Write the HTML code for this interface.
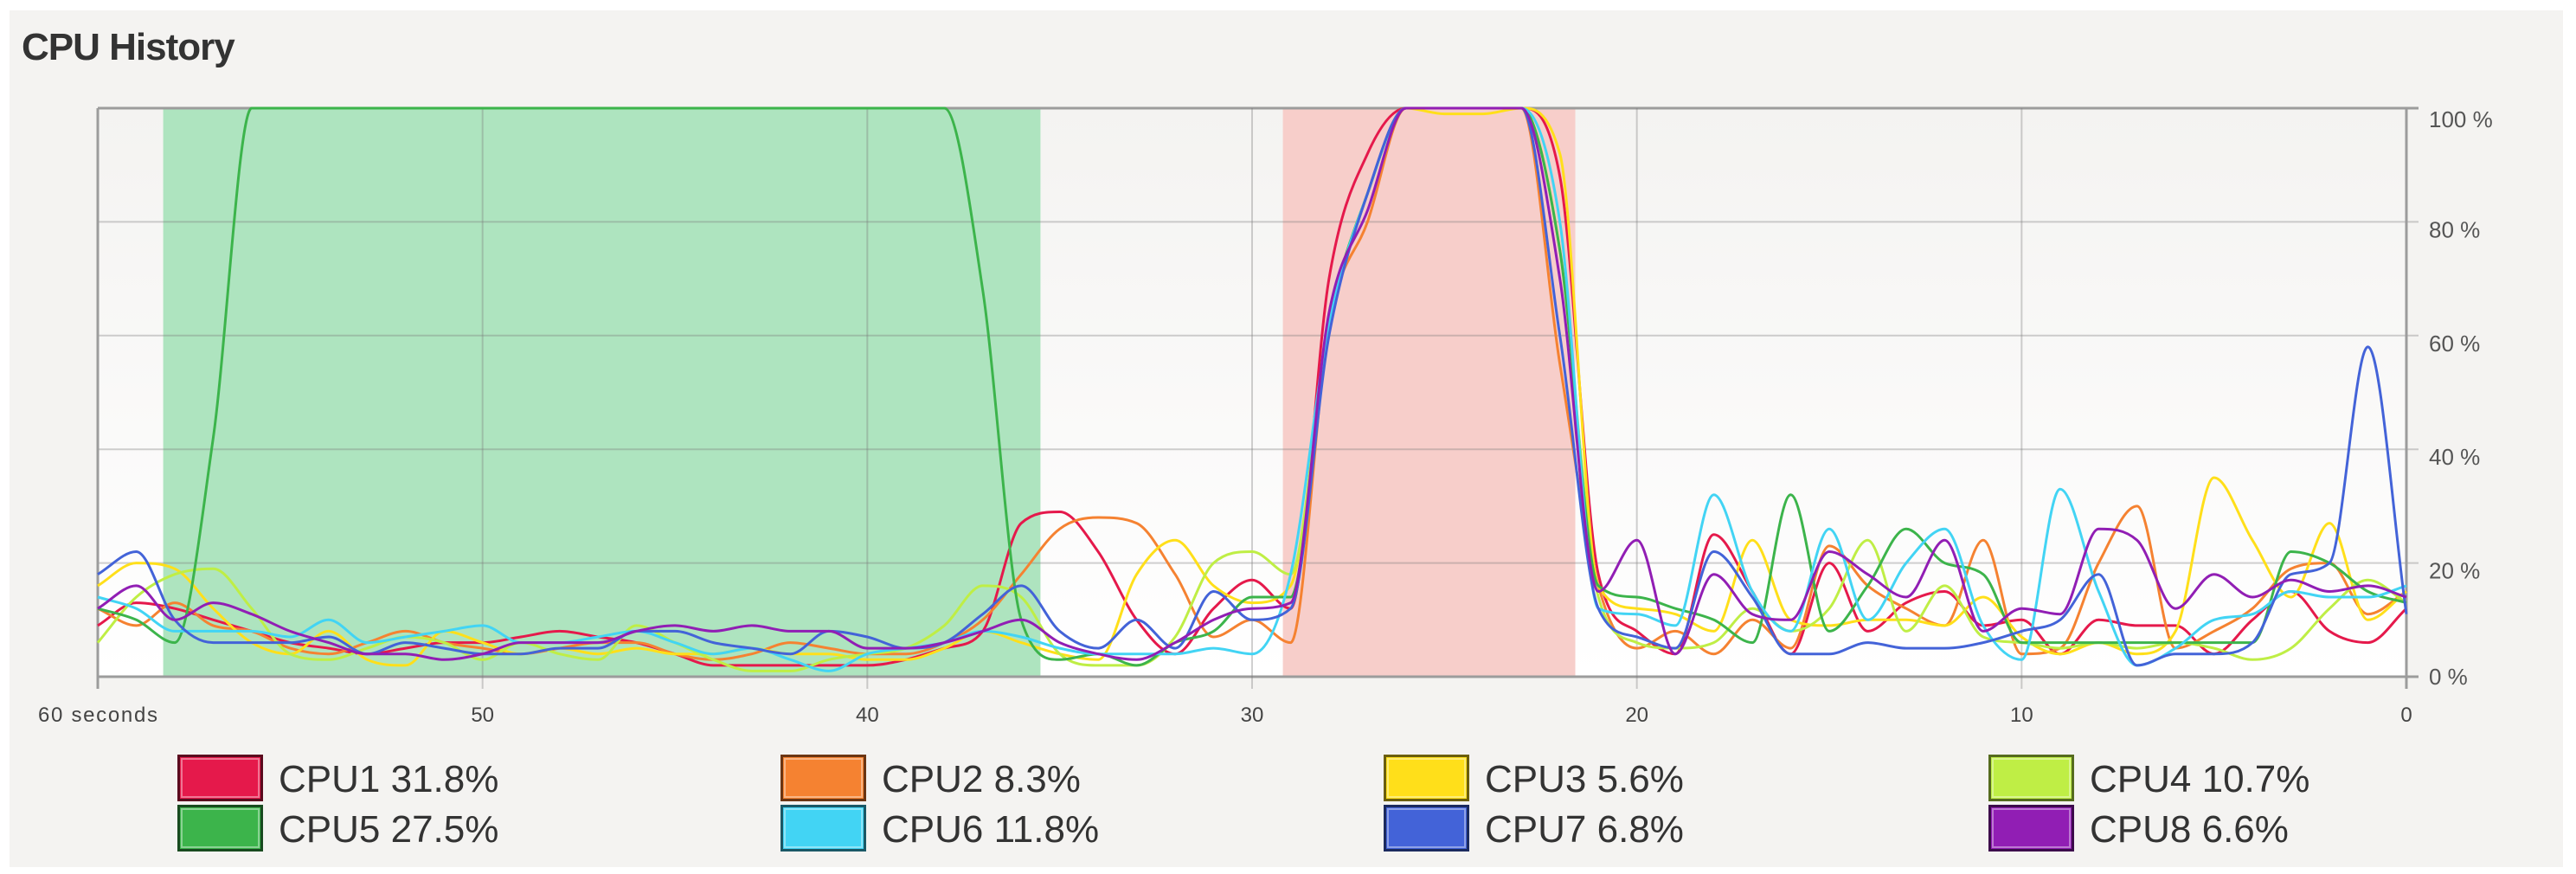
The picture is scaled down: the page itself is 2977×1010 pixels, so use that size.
<!DOCTYPE html>
<html><head><meta charset="utf-8"><style>
html,body{margin:0;padding:0;background:#fff;}
body{width:2977px;height:1010px;overflow:hidden;position:relative;font-family:"Liberation Sans",sans-serif;}
</style></head><body>
<div style="position:absolute;left:11px;top:12px;width:2951px;height:990px;background:#f4f3f1;"></div>
<div style="position:absolute;left:25px;top:30px;font-weight:bold;font-size:44px;color:#333;letter-spacing:-1px;">CPU History</div>
<svg id="chart" width="2977" height="1010" style="position:absolute;left:0;top:0;">
<defs><linearGradient id="bg" x1="0" y1="0" x2="0" y2="1"><stop offset="0" stop-color="#f4f3f1"/><stop offset="1" stop-color="#ffffff"/></linearGradient></defs>
</svg>
<script>
const cpuNames=["CPU1","CPU2","CPU3","CPU4","CPU5","CPU6","CPU7","CPU8"];
const cpuPercents=["31.8%","8.3%","5.6%","10.7%","27.5%","11.8%","6.8%","6.6%"];
const cpuColors=["#e5194b","#f58231","#ffdf1a","#bfee45","#3cb44b","#42d4f4","#4363d8","#911eb4"];
const cpuBorders=["#5a0a1e","#6b3512","#6b5e0a","#556b1e","#184a1f","#1a5866","#1b2a5e","#3c0b4b"];
const yTicks=[0,20,40,60,80,100];
const yTickLabels=["0 %","20 %","40 %","60 %","80 %","100 %"];
const xTicks=[60,50,40,30,20,10,0];
const xTickLabels=["60 seconds","50","40","30","20","10","0"];
const greenRegion=[58.3,35.5];
const redRegion=[29.2,21.6];
// values from 60 seconds ago down to 0
const cpu1=[9,13,12,10,8,6,5,4,5,6,6,7,8,7,6,4,2,2,2,2,2,3,5,8,27,29,22,10,4,12,17,12,70,92,100,100,100,100,88,18,8,4,25,15,4,20,8,13,15,9,10,4,10,9,9,4,10,15,8,6,12];
const cpu2=[12,9,13,9,8,5,4,6,8,6,5,4,5,6,6,4,3,4,6,5,4,4,6,10,18,26,28,27,18,7,10,6,62,80,100,100,100,100,55,16,5,8,4,10,5,23,16,12,9,24,4,5,20,30,5,8,12,19,20,11,15];
const cpu3=[16,20,19,12,6,4,8,3,2,8,6,4,5,4,5,4,4,5,4,4,3,3,5,8,6,4,3,18,24,16,13,16,62,85,100,99,99,100,92,16,12,11,8,24,10,9,10,10,9,14,7,4,6,4,8,35,24,14,27,10,15];
const cpu4=[6,14,18,19,12,4,3,5,7,6,3,6,4,3,9,6,3,1,1,3,4,5,9,16,14,4,2,2,7,20,22,18,62,85,100,100,100,100,75,14,6,5,6,12,8,12,24,8,16,7,6,5,6,5,6,5,3,5,12,17,13];
const cpu5=[12,10,6,42,100,100,100,100,100,100,100,100,100,100,100,100,100,100,100,100,100,100,100,68,10,3,4,2,6,8,14,14,62,85,100,100,100,100,75,16,14,12,10,6,32,8,16,26,20,18,6,6,6,6,6,6,6,22,20,15,13];
const cpu6=[14,12,8,8,8,7,10,6,7,8,9,6,6,7,8,6,4,5,3,1,4,5,6,8,7,5,4,4,4,5,4,18,62,85,100,100,100,100,80,12,11,9,32,15,8,26,10,20,26,9,3,33,15,2,5,10,11,15,14,14,16];
const cpu7=[18,22,10,6,6,6,7,4,6,5,4,4,5,5,8,8,6,5,4,8,7,5,6,11,16,8,5,10,5,15,10,12,60,85,100,100,100,100,60,12,7,5,22,14,4,4,6,5,5,6,8,10,18,2,4,4,6,18,20,58,11];
const cpu8=[12,16,10,13,11,8,6,4,4,3,4,6,6,6,8,9,8,9,8,8,5,5,6,8,10,6,4,3,6,10,12,13,64,82,100,100,100,100,70,15,24,4,18,11,10,22,18,14,24,8,12,11,26,24,12,18,14,17,15,16,14];
const series=[cpu1,cpu2,cpu3,cpu4,cpu5,cpu6,cpu7,cpu8];

const svg=document.getElementById('chart');
const NS="http://www.w3.org/2000/svg";
const X0=113,X1=2781,Y0=782,Y1=125;
function xs(sec){return X0+(60-sec)/60*(X1-X0);}
function ys(v){return Y0-v/100*(Y0-Y1);}
function mk(tag,attrs){const e=document.createElementNS(NS,tag);for(const k in attrs)e.setAttribute(k,attrs[k]);svg.appendChild(e);return e;}

const bg=mk('rect',{x:X0,y:Y1,width:X1-X0,height:Y0-Y1,fill:'url(#bg)'});



const gr=mk('rect',{x:xs(greenRegion[0]),y:Y1,width:xs(greenRegion[1])-xs(greenRegion[0]),height:Y0-Y1,fill:'#aee4bf'});


const rr=mk('rect',{x:xs(redRegion[0]),y:Y1,width:xs(redRegion[1])-xs(redRegion[0]),height:Y0-Y1,fill:'#f7ceca'});



yTicks.forEach((t,i)=>{
  const l=mk('line',{x1:X0,x2:X1+14,y1:ys(t),y2:ys(t),stroke:(t===0||t===100)?'#9c9c9c':'rgba(120,120,120,0.35)','stroke-width':(t===0||t===100)?3:2});
  
  
  const tx=mk('text',{x:2807,y:ys(t)+(t===0?9:t===100?22:18),'font-size':26,fill:'#555','font-family':'Liberation Sans, sans-serif'});
  tx.textContent=yTickLabels[i];
  
  
});
xTicks.forEach((t,i)=>{
  const edge=(t===60||t===0);
  const l=mk('line',{x1:xs(t),x2:xs(t),y1:Y1,y2:Y0+14,stroke:edge?'#9c9c9c':'rgba(120,120,120,0.35)','stroke-width':edge?3:2});
  
  
  const tx=mk('text',{x:xs(t),y:834,'font-size':24,fill:'#444','text-anchor':'middle','font-family':'Liberation Sans, sans-serif'});
  if(t===60)tx.setAttribute('textLength','138');
  tx.textContent=xTickLabels[i];
  
  
});

function monoPath(vals){
  const n=vals.length,px=[],py=[];
  for(let i=0;i<n;i++){px.push(xs(60-i));py.push(ys(vals[i]));}
  const d=[],m=[];
  for(let i=0;i<n-1;i++)d.push((py[i+1]-py[i])/(px[i+1]-px[i]));
  m[0]=d[0];m[n-1]=d[n-2];
  for(let i=1;i<n-1;i++){m[i]=(d[i-1]*d[i]<=0)?0:(d[i-1]+d[i])/2;}
  for(let i=0;i<n-1;i++){if(d[i]===0){m[i]=0;m[i+1]=0;continue;}const a=m[i]/d[i],b=m[i+1]/d[i],s=a*a+b*b;if(s>9){const t=3/Math.sqrt(s);m[i]=t*a*d[i];m[i+1]=t*b*d[i];}}
  let p='M'+px[0].toFixed(1)+','+py[0].toFixed(1);
  for(let i=0;i<n-1;i++){const h=(px[i+1]-px[i])/3;p+=' C'+(px[i]+h).toFixed(1)+','+(py[i]+m[i]*h).toFixed(1)+' '+(px[i+1]-h).toFixed(1)+','+(py[i+1]-m[i+1]*h).toFixed(1)+' '+px[i+1].toFixed(1)+','+py[i+1].toFixed(1);}
  return p;
}
series.forEach((s,k)=>{
  const p=mk('path',{d:monoPath(s),fill:'none',stroke:cpuColors[k],'stroke-width':3,'stroke-linejoin':'round'});
  
  
});

const colX=[205,902,1599,2298],rowY=[872,930];
cpuNames.forEach((nm,k)=>{
  const x=colX[k%4],y=rowY[Math.floor(k/4)];
  const g=document.createElementNS(NS,'g');svg.appendChild(g);
  
  
  const r=document.createElementNS(NS,'rect');
  r.setAttribute('x',x+1.5);r.setAttribute('y',y+1.5);r.setAttribute('width',96);r.setAttribute('height',51);
  r.setAttribute('fill',cpuColors[k]);r.setAttribute('stroke',cpuBorders[k]);r.setAttribute('stroke-width',3);
  
  
  g.appendChild(r);
  const hi=document.createElementNS(NS,'rect');
  hi.setAttribute('x',x+5);hi.setAttribute('y',y+5);hi.setAttribute('width',89);hi.setAttribute('height',44);
  hi.setAttribute('fill','none');hi.setAttribute('stroke','rgba(255,255,255,0.4)');hi.setAttribute('stroke-width',2);
  g.appendChild(hi);
  const t=document.createElementNS(NS,'text');
  t.setAttribute('x',x+117);t.setAttribute('y',y+43);t.setAttribute('font-size',44);t.setAttribute('fill','#333');
  t.setAttribute('font-family','Liberation Sans, sans-serif');
  t.textContent=nm+' '+cpuPercents[k];
  
  
  g.appendChild(t);
});
</script>
</body></html>
